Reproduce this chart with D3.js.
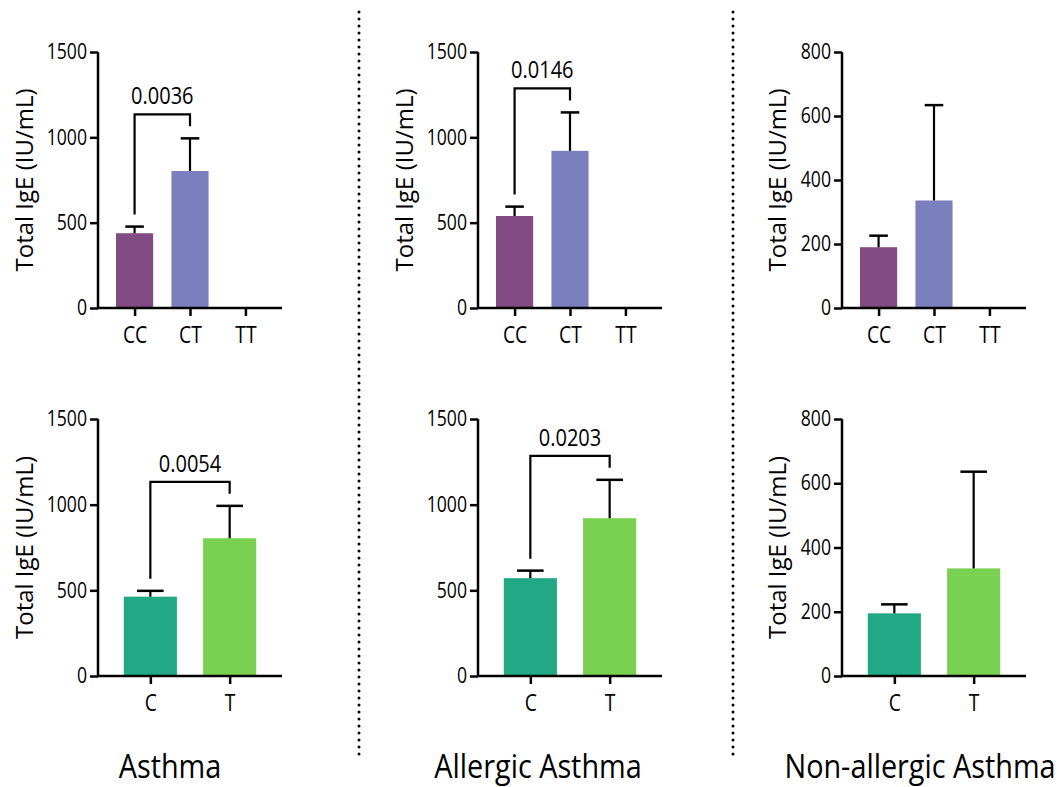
<!DOCTYPE html>
<html>
<head>
<meta charset="utf-8">
<script src="https://cdn.jsdelivr.net/npm/d3@7"></script>
<style>
  body { margin: 0; background: #fff; }
  text { font-family: "Open Sans", "Noto Sans", sans-serif; fill: #000; }
</style>
</head>
<body>
<div id="chart"></div>
<script>
// categories
const genoCats = ["CC", "CT", "TT"];
const alleleCats = ["C", "T"];
const groupTitles = ["Asthma", "Allergic Asthma", "Non-allergic Asthma"];

// y ticks
const ticks1500 = [0, 500, 1000, 1500];
const ticks800 = [0, 200, 400, 600, 800];

// genotype panels: mean and SEM (CC, CT, TT)
const asthmaGenoMean = [438, 803, null];
const asthmaGenoSem = [39, 191, null];
const allergicGenoMean = [539, 921, null];
const allergicGenoSem = [55, 225, null];
const nonAllergicGenoMean = [190, 336, null];
const nonAllergicGenoSem = [36, 298, null];

// allele panels: mean and SEM (C, T)
const asthmaAlleleMean = [463, 804];
const asthmaAlleleSem = [34, 189];
const allergicAlleleMean = [571, 921];
const allergicAlleleSem = [44, 224];
const nonAllergicAlleleMean = [195, 335];
const nonAllergicAlleleSem = [28, 301];

// p values (CC vs CT, C vs T)
const genoP = ["0.0036", "0.0146", null];
const alleleP = ["0.0054", "0.0203", null];

const genoColors = ["#834b84", "#7b7fbe", "#7b7fbe"];
const alleleColors = ["#22a884", "#7ad151"];

const W = 1063, H = 787;
const squeeze = 0.84;          // horizontal squeeze of the glyphs
const axisX = [98, 478, 842];  // y-axis position per column
const axisW = 184;
const rows = [{ top: 52, bottom: 308 }, { top: 419, bottom: 676 }];

const svg = d3.select("#chart").append("svg")
    .attr("width", W)
    .attr("height", H);

function drawPanel(col, row, cats, means, sems, colors, yMax, ticks, pval, showLabel) {
    const h = rows[row].bottom - rows[row].top;
    const g = svg.append("g")
        .attr("transform", `translate(${axisX[col]},${rows[row].top})`);

    const x = d3.scalePoint().domain(cats).range([0, axisW]).padding(0.66);
    const y = d3.scaleLinear().domain([0, yMax]).range([h, 0]);
    const bw = x.step() * 0.67;

    const data = cats.map((c, i) => ({ cat: c, mean: means[i], sem: sems[i], color: colors[i] }))
        .filter(d => d.mean != null);

    // bars
    g.selectAll("rect.bar").data(data).enter().append("rect")
        .attr("class", "bar")
        .attr("x", d => x(d.cat) - bw / 2)
        .attr("width", bw)
        .attr("y", d => y(d.mean))
        .attr("height", d => h - y(d.mean))
        .attr("fill", d => d.color);

    // error bars (upper only)
    const cap = bw * 0.5;
    g.selectAll("line.err").data(data).enter().append("line")
        .attr("x1", d => x(d.cat)).attr("x2", d => x(d.cat))
        .attr("y1", d => y(d.mean)).attr("y2", d => y(d.mean + d.sem))
        .attr("stroke", "#000").attr("stroke-width", 2.2);
    g.selectAll("line.cap").data(data).enter().append("line")
        .attr("x1", d => x(d.cat) - cap / 2).attr("x2", d => x(d.cat) + cap / 2)
        .attr("y1", d => y(d.mean + d.sem)).attr("y2", d => y(d.mean + d.sem))
        .attr("stroke", "#000").attr("stroke-width", 2.5);

    // significance bracket between first two groups
    if (pval) {
        const a = data[0], b = data[1];
        const ya = y(a.mean + a.sem) - 12, yb = y(b.mean + b.sem) - 12;
        const yt = Math.min(y(a.mean + a.sem), y(b.mean + b.sem)) - 24;
        g.append("path")
            .attr("d", `M${x(a.cat)},${ya}V${yt}H${x(b.cat)}V${yb}`)
            .attr("fill", "none").attr("stroke", "#000").attr("stroke-width", 2.2);
        g.append("text")
            .attr("transform", `translate(${(x(a.cat) + x(b.cat)) / 2},${yt - 10}) scale(0.87,1)`)
            .attr("text-anchor", "middle")
            .style("font-size", "23px")
            .text(pval);
    }

    // axes
    const yAxis = g.append("g")
        .call(d3.axisLeft(y).tickValues(ticks).tickFormat(d3.format("d"))
            .tickSize(8).tickPadding(3).tickSizeOuter(0));
    const xAxis = g.append("g")
        .attr("transform", `translate(0,${h})`)
        .call(d3.axisBottom(x).tickSize(8).tickPadding(11).tickSizeOuter(0));
    g.selectAll(".domain, .tick line").attr("stroke", "#000").attr("stroke-width", 2.5);
    xAxis.select(".domain").attr("d", `M0,0H${axisW}`);
    yAxis.select(".domain").attr("d", `M0,${h}V0`);
    yAxis.selectAll("text")
        .style("font-size", "21px").style("font-family", "Open Sans")
        .attr("x", -11 / squeeze)
        .attr("transform", `scale(${squeeze},1)`);
    xAxis.selectAll("text")
        .style("font-size", "23px").style("font-family", "Open Sans")
        .attr("transform", `scale(${squeeze},1)`);

    if (showLabel) {
        const off = yMax === 800 ? -64 : -73;
        g.append("text")
            .attr("transform", `translate(${off},${h / 2}) rotate(-90)`)
            .attr("text-anchor", "middle")
            .attr("dy", "0.35em")
            .style("font-size", "24px")
            .text("Total IgE (IU/mL)");
    }
}

drawPanel(0, 0, genoCats, asthmaGenoMean, asthmaGenoSem, genoColors, 1500, ticks1500, genoP[0], true);
drawPanel(1, 0, genoCats, allergicGenoMean, allergicGenoSem, genoColors, 1500, ticks1500, genoP[1], true);
drawPanel(2, 0, genoCats, nonAllergicGenoMean, nonAllergicGenoSem, genoColors, 800, ticks800, genoP[2], true);
drawPanel(0, 1, alleleCats, asthmaAlleleMean, asthmaAlleleSem, alleleColors, 1500, ticks1500, alleleP[0], true);
drawPanel(1, 1, alleleCats, allergicAlleleMean, allergicAlleleSem, alleleColors, 1500, ticks1500, alleleP[1], false);
drawPanel(2, 1, alleleCats, nonAllergicAlleleMean, nonAllergicAlleleSem, alleleColors, 800, ticks800, alleleP[2], true);

// dotted separators
[359, 733].forEach(xs => {
    svg.append("line")
        .attr("x1", xs).attr("x2", xs)
        .attr("y1", 12).attr("y2", 760)
        .attr("stroke", "#000")
        .attr("stroke-width", 3)
        .attr("stroke-linecap", "round")
        .attr("stroke-dasharray", "0,7");
});

// group titles
const titleX = [170, 538, 920];
groupTitles.forEach((t, i) => {
    svg.append("text")
        .attr("transform", `translate(${titleX[i]},778) scale(0.9,1)`)
        .attr("text-anchor", "middle")
        .style("font-size", "32px")
        .text(t);
});
</script>
</body>
</html>
